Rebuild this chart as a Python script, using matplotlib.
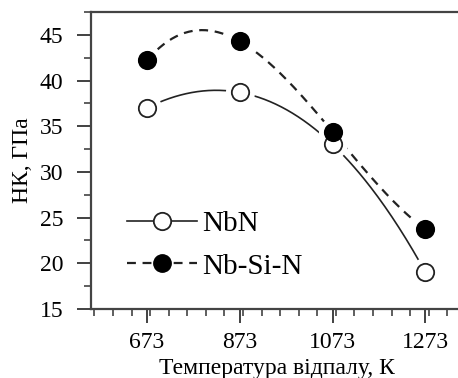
import numpy as np
import matplotlib.pyplot as plt
from matplotlib.ticker import MultipleLocator

plt.rcParams['font.family'] = ['Liberation Serif', 'DejaVu Serif']

temps = np.array([673, 873, 1073, 1273])
hk_nbn = np.array([37.0, 38.7, 33.0, 19.0])
hk_nbsin = np.array([42.2, 44.3, 34.4, 23.7])
xticks = [673, 873, 1073, 1273]

fig = plt.figure(figsize=(4.58, 3.78), dpi=100)
ax = fig.add_axes([0.199, 0.183, 0.81, 0.785])

# smooth curves through the 4 points (cubic interpolation)
t = np.linspace(673, 1273, 200)
c1 = np.polyfit(temps, hk_nbn, 3)
c2 = np.polyfit(temps, hk_nbsin, 3)
ax.plot(t, np.polyval(c1, t), color='#222222', lw=1.2, zorder=1)
ax.plot(t, np.polyval(c2, t), color='#222222', lw=1.6, ls=(0, (4, 3)), zorder=1)

# white halos so lines stop short of the markers
ax.plot(temps, hk_nbn, 'o', ms=21, color='white', mec='none', zorder=2)
ax.plot(temps, hk_nbsin, 'o', ms=21, color='white', mec='none', zorder=2)

ax.plot(temps, hk_nbn, 'o', ms=12.5, mfc='white', mec='#222222', mew=1.3, zorder=3)
ax.plot(temps, hk_nbsin, 'o', ms=12.5, mfc='black', mec='black', mew=1.3, zorder=4)

h1, = ax.plot([], [], '-o', color='#222222', lw=1.2, ms=12.5, mfc='white', mew=1.3, label='NbN')
h2, = ax.plot([], [], '--o', color='#222222', lw=1.6, ms=12.5, mfc='black', mec='black',
              dashes=(4, 3), label='Nb-Si-N')
ax.legend(handles=[h1, h2], loc='lower left', bbox_to_anchor=(0.025, 0.01), frameon=False,
          fontsize=21, handlelength=2.4, handletextpad=0.2, labelspacing=0.55)

ax.set_xlim(553, 1352)
ax.set_ylim(15, 47.5)
ax.set_xticks(xticks)
ax.xaxis.set_minor_locator(MultipleLocator(40))
ax.yaxis.set_major_locator(MultipleLocator(5))
ax.yaxis.set_minor_locator(MultipleLocator(2.5))
ax.tick_params(which='major', length=10, width=1.3, labelsize=17, color='#333333')
ax.tick_params(which='minor', length=5, width=1.1, color='#333333')
ax.tick_params(axis='x', pad=7)
ax.tick_params(axis='y', pad=10)

for s in ['left', 'bottom', 'top']:
    ax.spines[s].set_linewidth(1.6)
    ax.spines[s].set_color('#444444')
ax.spines['right'].set_visible(False)

ax.set_xlabel('Температура відпалу, К', fontsize=17, labelpad=3)
ax.set_ylabel('НК, ГПа', fontsize=17, labelpad=5)

fig.savefig('out.png', dpi=100)
